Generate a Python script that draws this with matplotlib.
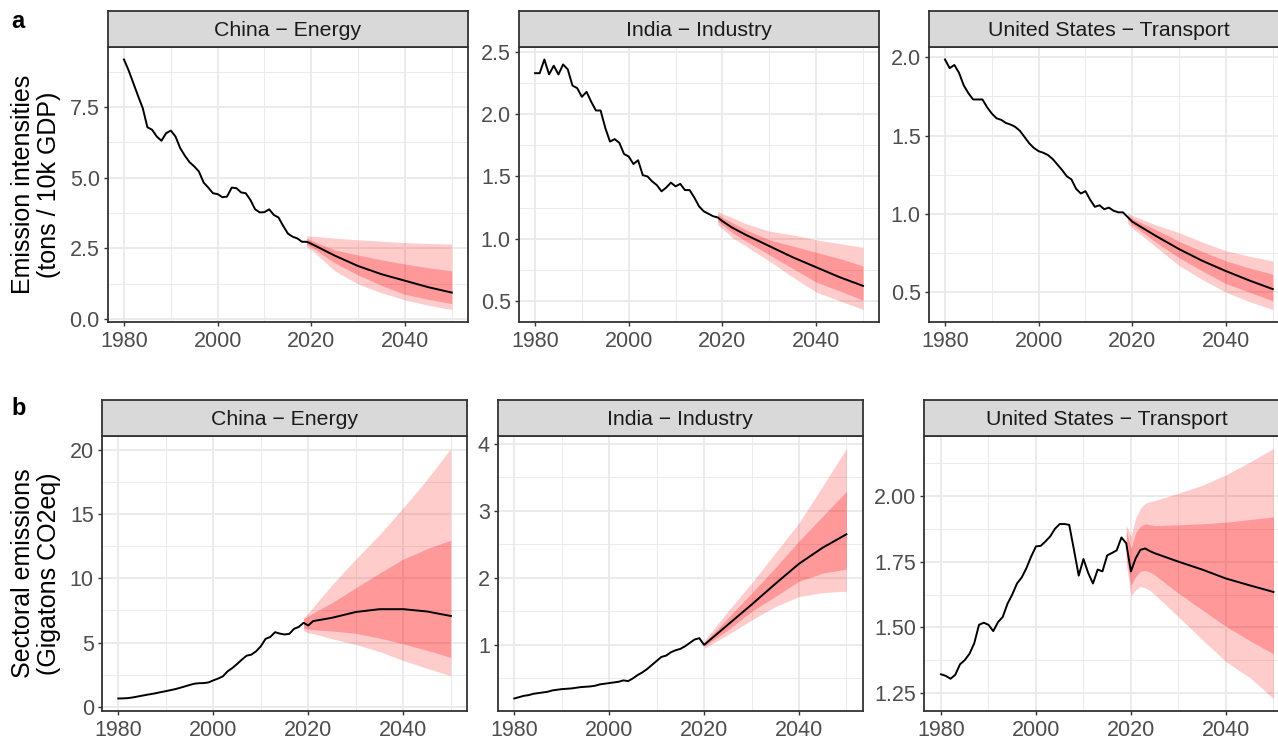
import numpy as np
import matplotlib
matplotlib.use("Agg")
import matplotlib.pyplot as plt
from matplotlib.ticker import MultipleLocator, FormatStrFormatter

plt.rcParams['font.family'] = ['Liberation Sans', 'DejaVu Sans']

# ---------------- data ----------------
hist_years = list(range(1980, 2020))

panel_titles = ["China \u2212 Energy", "India \u2212 Industry", "United States \u2212 Transport",
                "China \u2212 Energy", "India \u2212 Industry", "United States \u2212 Transport"]

# Row a: emission intensities
cn_int_hist = [9.19, 8.80, 8.35, 7.90, 7.47, 6.79, 6.70, 6.46, 6.31, 6.58,
               6.67, 6.46, 6.05, 5.78, 5.55, 5.40, 5.22, 4.83, 4.65, 4.45,
               4.42, 4.31, 4.33, 4.65, 4.63, 4.48, 4.45, 4.21, 3.88, 3.77,
               3.78, 3.88, 3.68, 3.59, 3.29, 3.02, 2.91, 2.85, 2.73, 2.73]
cn_int_fc_years = [2019, 2020, 2025, 2030, 2035, 2040, 2045, 2050]
cn_int_med = [2.73, 2.66, 2.24, 1.87, 1.58, 1.35, 1.12, 0.93]
cn_int_hi95 = [2.94, 2.93, 2.86, 2.80, 2.75, 2.70, 2.67, 2.65]
cn_int_hi80 = [2.86, 2.78, 2.44, 2.26, 2.09, 1.94, 1.81, 1.70]
cn_int_lo80 = [2.62, 2.55, 1.98, 1.55, 1.18, 0.87, 0.69, 0.54]
cn_int_lo95 = [2.54, 2.45, 1.70, 1.23, 0.92, 0.67, 0.48, 0.33]

in_int_hist = [2.33, 2.33, 2.44, 2.32, 2.39, 2.32, 2.40, 2.36, 2.23, 2.21,
               2.14, 2.18, 2.10, 2.03, 2.03, 1.89, 1.78, 1.80, 1.77, 1.68,
               1.66, 1.60, 1.63, 1.51, 1.50, 1.46, 1.43, 1.38, 1.41, 1.45,
               1.42, 1.44, 1.39, 1.39, 1.33, 1.26, 1.22, 1.20, 1.18, 1.17]
in_int_fc_years = [2019, 2020, 2022, 2025, 2030, 2035, 2040, 2045, 2050]
in_int_med = [1.17, 1.14, 1.09, 1.03, 0.94, 0.85, 0.77, 0.69, 0.62]
in_int_hi95 = [1.22, 1.20, 1.17, 1.12, 1.06, 1.03, 0.99, 0.96, 0.93]
in_int_hi80 = [1.20, 1.17, 1.13, 1.07, 0.99, 0.94, 0.89, 0.84, 0.78]
in_int_lo80 = [1.14, 1.11, 1.05, 0.98, 0.87, 0.76, 0.65, 0.58, 0.505]
in_int_lo95 = [1.11, 1.08, 1.01, 0.94, 0.82, 0.69, 0.57, 0.50, 0.43]

us_int_hist = [1.985, 1.93, 1.95, 1.90, 1.82, 1.77, 1.73, 1.73, 1.73, 1.68,
               1.64, 1.61, 1.60, 1.58, 1.57, 1.555, 1.53, 1.49, 1.45, 1.42,
               1.40, 1.39, 1.375, 1.35, 1.315, 1.28, 1.24, 1.22, 1.16, 1.13,
               1.145, 1.09, 1.045, 1.055, 1.03, 1.04, 1.02, 1.01, 1.01, 0.98]
us_int_fc_years = [2019, 2020, 2025, 2030, 2035, 2040, 2045, 2050]
us_int_med = [0.98, 0.95, 0.86, 0.775, 0.70, 0.635, 0.575, 0.52]
us_int_hi95 = [1.005, 0.99, 0.93, 0.88, 0.82, 0.765, 0.73, 0.70]
us_int_hi80 = [0.99, 0.97, 0.90, 0.825, 0.76, 0.70, 0.655, 0.615]
us_int_lo80 = [0.965, 0.93, 0.82, 0.72, 0.635, 0.555, 0.50, 0.445]
us_int_lo95 = [0.94, 0.91, 0.79, 0.67, 0.58, 0.50, 0.44, 0.39]

# Row b: sectoral emissions
cn_em_hist = [0.65, 0.66, 0.68, 0.73, 0.80, 0.87, 0.94, 1.00, 1.07, 1.15,
              1.22, 1.30, 1.38, 1.48, 1.59, 1.70, 1.80, 1.84, 1.85, 1.90,
              2.06, 2.20, 2.37, 2.76, 3.02, 3.33, 3.67, 3.98, 4.06, 4.32,
              4.71, 5.29, 5.44, 5.81, 5.70, 5.63, 5.68, 6.07, 6.22, 6.54]
cn_em_fc_years = [2019, 2020, 2021, 2025, 2030, 2035, 2040, 2045, 2050]
cn_em_med = [6.54, 6.33, 6.67, 6.93, 7.38, 7.60, 7.60, 7.42, 7.07]
cn_em_hi95 = [6.95, 7.30, 7.75, 9.50, 11.5, 13.4, 15.5, 17.7, 20.1]
cn_em_hi80 = [6.85, 7.06, 7.30, 8.10, 9.27, 10.4, 11.5, 12.3, 12.97]
cn_em_lo80 = [6.15, 6.05, 6.00, 5.90, 5.72, 5.35, 4.90, 4.40, 3.85]
cn_em_lo95 = [5.95, 5.75, 5.70, 5.30, 4.85, 4.30, 3.60, 3.00, 2.42]

in_em_hist = [0.20, 0.22, 0.24, 0.25, 0.27, 0.28, 0.29, 0.30, 0.32, 0.33,
              0.34, 0.345, 0.35, 0.36, 0.37, 0.375, 0.38, 0.39, 0.41, 0.42,
              0.43, 0.44, 0.45, 0.47, 0.46, 0.50, 0.55, 0.59, 0.64, 0.70,
              0.76, 0.82, 0.84, 0.89, 0.92, 0.94, 0.98, 1.03, 1.08, 1.10]
in_em_fc_years = [2020, 2025, 2030, 2035, 2040, 2045, 2050]
in_em_med = [1.00, 1.30, 1.60, 1.91, 2.21, 2.45, 2.65]
in_em_hi95 = [1.06, 1.50, 1.92, 2.37, 2.82, 3.37, 3.93]
in_em_hi80 = [1.03, 1.40, 1.77, 2.15, 2.55, 2.92, 3.29]
in_em_lo80 = [0.98, 1.22, 1.50, 1.72, 1.95, 2.07, 2.13]
in_em_lo95 = [0.95, 1.15, 1.37, 1.57, 1.72, 1.78, 1.80]

us_em_hist = [1.322, 1.316, 1.305, 1.32, 1.36, 1.376, 1.40, 1.44, 1.51, 1.518,
              1.51, 1.486, 1.52, 1.54, 1.59, 1.625, 1.667, 1.69, 1.726, 1.77,
              1.808, 1.81, 1.827, 1.846, 1.875, 1.893, 1.893, 1.89, 1.795, 1.697,
              1.76, 1.707, 1.667, 1.72, 1.713, 1.774, 1.783, 1.793, 1.842, 1.82]
us_em_fc_years = [2019, 2020, 2021, 2022, 2023, 2024, 2025, 2030, 2035, 2040, 2045, 2050]
us_em_med = [1.82, 1.713, 1.763, 1.795, 1.80, 1.79, 1.782, 1.75, 1.72, 1.686, 1.66, 1.635]
us_em_hi95 = [1.89, 1.846, 1.915, 1.953, 1.972, 1.978, 1.982, 2.01, 2.04, 2.08, 2.128, 2.18]
us_em_hi80 = [1.87, 1.80, 1.86, 1.884, 1.894, 1.89, 1.887, 1.89, 1.894, 1.90, 1.91, 1.92]
us_em_lo80 = [1.77, 1.66, 1.694, 1.713, 1.717, 1.71, 1.70, 1.63, 1.567, 1.504, 1.45, 1.40]
us_em_lo95 = [1.745, 1.62, 1.643, 1.656, 1.65, 1.64, 1.625, 1.54, 1.454, 1.37, 1.31, 1.23]

row_labels = ["Emission intensities\n(tons / 10k GDP)",
              "Sectoral emissions\n(Gigatons CO2eq)"]

panels = [
    (cn_int_hist, cn_int_fc_years, cn_int_med, cn_int_lo95, cn_int_hi95, cn_int_lo80, cn_int_hi80),
    (in_int_hist, in_int_fc_years, in_int_med, in_int_lo95, in_int_hi95, in_int_lo80, in_int_hi80),
    (us_int_hist, us_int_fc_years, us_int_med, us_int_lo95, us_int_hi95, us_int_lo80, us_int_hi80),
    (cn_em_hist, cn_em_fc_years, cn_em_med, cn_em_lo95, cn_em_hi95, cn_em_lo80, cn_em_hi80),
    (in_em_hist, in_em_fc_years, in_em_med, in_em_lo95, in_em_hi95, in_em_lo80, in_em_hi80),
    (us_em_hist, us_em_fc_years, us_em_med, us_em_lo95, us_em_hi95, us_em_lo80, us_em_hi80),
]

# ---------------- layout / style ----------------
W, H = 1278, 736
fig = plt.figure(figsize=(W / 100, H / 100), dpi=100)

# (left, right, plot_top, plot_bottom, strip_top) in pixels
boxes = [
    (107.6, 468.2, 47, 322, 11),
    (518.6, 879.4, 47, 322, 11),
    (928.6, 1289.2, 47, 322, 11),
    (101.7, 467.4, 436, 711, 400),
    (497.7, 863.0, 436, 711, 400),
    (924.4, 1290.0, 436, 711, 400),
]
y_major = [2.5, 0.5, 0.5, 5, 1, 0.25]
y_fmt = ['%.1f', '%.1f', '%.1f', '%d', '%d', '%.2f']

border_col = '#333333'
grid_col = '#EBEBEB'
tick_col = '#4D4D4D'

for i, (box, data) in enumerate(zip(boxes, panels)):
    l, r, t, b, st = box
    ax = fig.add_axes([l / W, 1 - b / H, (r - l) / W, (b - t) / H])
    hist, fy, med, lo95, hi95, lo80, hi80 = data

    ax.fill_between(fy, lo95, hi95, color='red', alpha=0.2, lw=0, zorder=2)
    ax.fill_between(fy, lo80, hi80, color='red', alpha=0.25, lw=0, zorder=3)
    xs = list(hist_years) + list(fy)
    ys = list(hist) + list(med)
    ax.plot(xs, ys, color='black', lw=1.4, zorder=4)

    ax.margins(x=0.05, y=0.05)
    ax.xaxis.set_major_locator(MultipleLocator(20))
    ax.xaxis.set_minor_locator(MultipleLocator(10))
    ax.yaxis.set_major_locator(MultipleLocator(y_major[i]))
    ax.yaxis.set_minor_locator(MultipleLocator(y_major[i] / 2))
    ax.yaxis.set_major_formatter(FormatStrFormatter(y_fmt[i]))
    ax.set_axisbelow(True)
    ax.grid(which='major', color=grid_col, lw=1.4, zorder=0)
    ax.grid(which='minor', color=grid_col, lw=0.7, zorder=0)
    ax.tick_params(which='major', length=3.2, width=1.0, color=border_col,
                   labelcolor=tick_col, labelsize=15.5, pad=2.5)
    ax.tick_params(axis='x', which='major', pad=3.5)
    ax.tick_params(which='minor', length=0)
    for s in ax.spines.values():
        s.set_color(border_col)
        s.set_linewidth(1.3)
        s.set_zorder(5)

    sax = fig.add_axes([l / W, 1 - t / H, (r - l) / W, (t - st) / H])
    sax.set_facecolor('#D9D9D9')
    sax.set_xticks([])
    sax.set_yticks([])
    for s in sax.spines.values():
        s.set_color(border_col)
        s.set_linewidth(1.3)
    sax.text(0.5, 0.47, panel_titles[i], transform=sax.transAxes, ha='center', va='center',
             fontsize=15.3, color='#1A1A1A')

# y-axis titles
fig.text(36 / W, 1 - 184.5 / H, row_labels[0], rotation=90, ha='center', va='center',
         fontsize=18, multialignment='center', linespacing=1.1)
fig.text(36 / W, 1 - 573.5 / H, row_labels[1], rotation=90, ha='center', va='center',
         fontsize=18, multialignment='center', linespacing=1.1)

# panel letters
fig.text(11 / W, 1 - 28 / H, 'a', fontsize=17, fontweight='bold', ha='left', va='baseline')
fig.text(11 / W, 1 - 415 / H, 'b', fontsize=17, fontweight='bold', ha='left', va='baseline')

fig.savefig('out.png', dpi=100, facecolor='white')
